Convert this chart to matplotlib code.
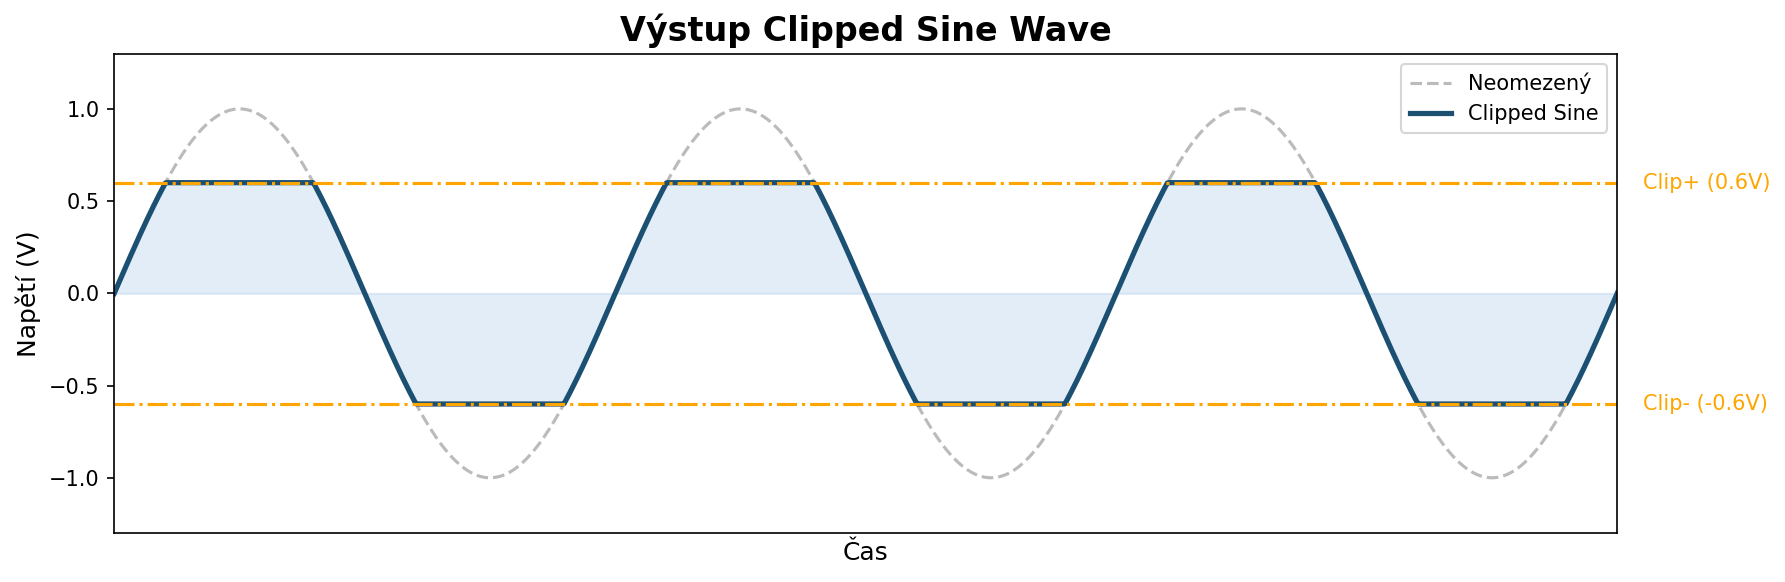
import numpy as np
import matplotlib.pyplot as plt

# Signal parameters
cycles = 3
amplitude = 1.0
clip_high = 0.6
clip_low = -0.6
n_points = 1000

t = np.linspace(0, cycles, n_points)
raw = amplitude * np.sin(2 * np.pi * t)
clipped = np.clip(raw, clip_low, clip_high)

fig, ax = plt.subplots(figsize=(11.9, 3.88), dpi=150)

ax.plot(t, raw, linestyle='--', color='#bbbbbb', linewidth=1.5, label='Neomezený')
ax.fill_between(t, clipped, 0, color='#a8c8ea', alpha=0.32)
ax.plot(t, clipped, color='#1b5073', linewidth=2.5, label='Clipped Sine')
ax.axhline(clip_high, color='#FFA500', linestyle='-.', linewidth=1.5)
ax.axhline(clip_low, color='#FFA500', linestyle='-.', linewidth=1.5)

ax.text(1.017, clip_high, f'Clip+ ({clip_high}V)', transform=ax.get_yaxis_transform(),
        color='#FFA500', va='center', ha='left', fontsize=10)
ax.text(1.017, clip_low, f'Clip- ({clip_low}V)', transform=ax.get_yaxis_transform(),
        color='#FFA500', va='center', ha='left', fontsize=10)

ax.set_xlim(0, cycles)
ax.set_ylim(-1.3, 1.3)
ax.set_xticks([])
ax.set_yticks([-1.0, -0.5, 0.0, 0.5, 1.0])
ax.set_xlabel('Čas', fontsize=12)
ax.set_ylabel('Napětí (V)', fontsize=12)
ax.set_title('Výstup Clipped Sine Wave', fontsize=16, fontweight='bold')
ax.legend(loc='upper right', fontsize=10)

# Layout
plt.subplots_adjust(left=0.064, right=0.906, top=0.908, bottom=0.084)
plt.savefig('out.png', dpi=150)
